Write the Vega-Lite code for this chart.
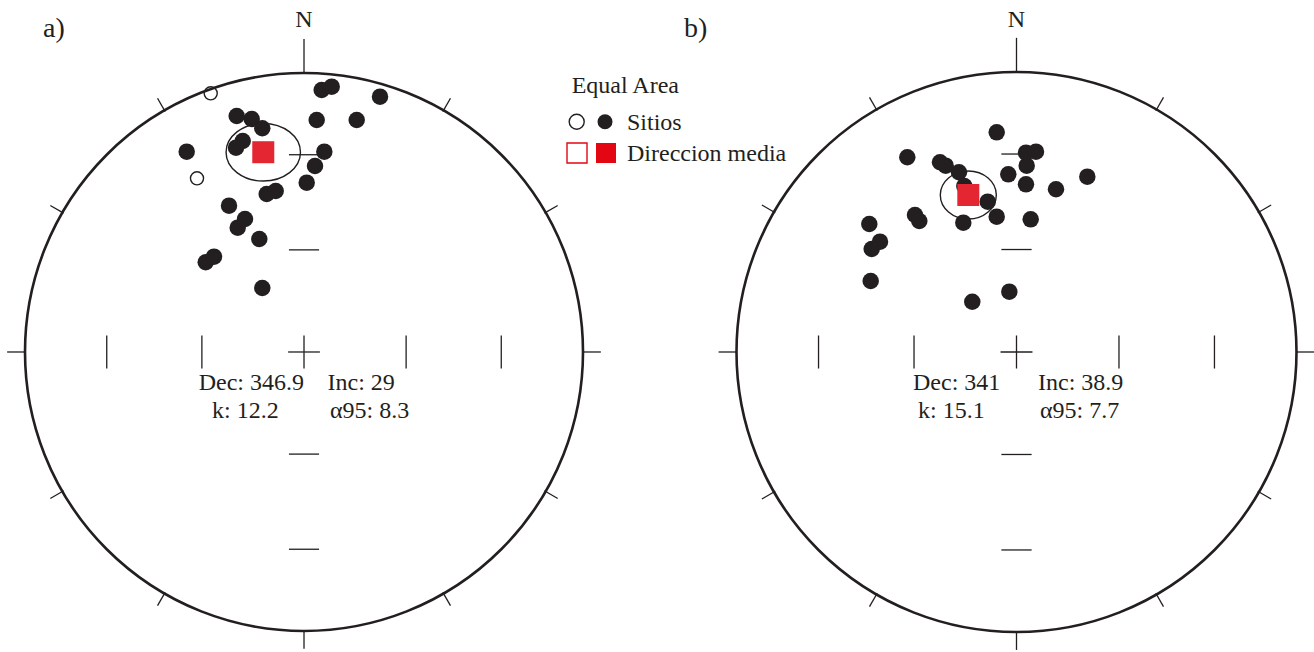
{
  "$schema": "https://vega.github.io/schema/vega-lite/v6.json",
  "padding": 0,
  "spacing": 0,
  "bounds": "flush",
  "background": "white",
  "config": {"view": {"stroke": null}, "text": {"font": "Liberation Serif", "color": "#231f20"}},
  "datasets": {
    "centro": [{"x": 0, "y": 0}],
    "ticks": [
      {"x": -0.057, "y": 0, "x2": 0.057, "y2": 0},
      {"x": 0, "y": -0.059, "x2": 0, "y2": 0.059},
      {"x": -0.707, "y": -0.059, "x2": -0.707, "y2": 0.059},
      {"x": -0.366, "y": -0.059, "x2": -0.366, "y2": 0.059},
      {"x": 0.366, "y": -0.059, "x2": 0.366, "y2": 0.059},
      {"x": 0.707, "y": -0.059, "x2": 0.707, "y2": 0.059},
      {"x": -0.054, "y": 0.707, "x2": 0.054, "y2": 0.707},
      {"x": -0.054, "y": 0.366, "x2": 0.054, "y2": 0.366},
      {"x": -0.054, "y": -0.366, "x2": 0.054, "y2": -0.366},
      {"x": -0.054, "y": -0.707, "x2": 0.054, "y2": -0.707},
      {"x": 0, "y": 1, "x2": 0, "y2": 1.122},
      {"x": 0.4975, "y": 0.8617, "x2": 0.525, "y2": 0.9093},
      {"x": 0.8617, "y": 0.4975, "x2": 0.9093, "y2": 0.525},
      {"x": 1, "y": 0, "x2": 1.064, "y2": 0},
      {"x": 0.8617, "y": -0.4975, "x2": 0.9093, "y2": -0.525},
      {"x": 0.4975, "y": -0.8617, "x2": 0.525, "y2": -0.9093},
      {"x": 0, "y": -1, "x2": 0, "y2": -1.064},
      {"x": -0.4975, "y": -0.8617, "x2": -0.525, "y2": -0.9093},
      {"x": -0.8617, "y": -0.4975, "x2": -0.9093, "y2": -0.525},
      {"x": -1, "y": 0, "x2": -1.064, "y2": 0},
      {"x": -0.8617, "y": 0.4975, "x2": -0.9093, "y2": 0.525},
      {"x": -0.4975, "y": 0.8617, "x2": -0.525, "y2": 0.9093}
    ],
    "sitiosA": [
      {"x": -0.3344, "y": 0.9272, "hem": "sup"},
      {"x": -0.3835, "y": 0.6226, "hem": "sup"},
      {"x": -0.4204, "y": 0.7179, "hem": "inf"},
      {"x": -0.2412, "y": 0.8459, "hem": "inf"},
      {"x": -0.1875, "y": 0.8351, "hem": "inf"},
      {"x": -0.1495, "y": 0.8018, "hem": "inf"},
      {"x": -0.2197, "y": 0.7563, "hem": "inf"},
      {"x": -0.2437, "y": 0.7323, "hem": "inf"},
      {"x": 0.0634, "y": 0.9391, "hem": "inf"},
      {"x": 0.0993, "y": 0.9509, "hem": "inf"},
      {"x": 0.2724, "y": 0.9151, "hem": "inf"},
      {"x": 0.0455, "y": 0.8315, "hem": "inf"},
      {"x": 0.1889, "y": 0.8315, "hem": "inf"},
      {"x": 0.0728, "y": 0.7179, "hem": "inf"},
      {"x": 0.0394, "y": 0.6667, "hem": "inf"},
      {"x": 0.0097, "y": 0.6068, "hem": "inf"},
      {"x": -0.1337, "y": 0.5663, "hem": "inf"},
      {"x": -0.1014, "y": 0.5771, "hem": "inf"},
      {"x": -0.2688, "y": 0.5244, "hem": "inf"},
      {"x": -0.2115, "y": 0.4767, "hem": "inf"},
      {"x": -0.2376, "y": 0.4455, "hem": "inf"},
      {"x": -0.1602, "y": 0.405, "hem": "inf"},
      {"x": -0.3226, "y": 0.3416, "hem": "inf"},
      {"x": -0.3523, "y": 0.3215, "hem": "inf"},
      {"x": -0.1495, "y": 0.2294, "hem": "inf"}
    ],
    "mediaA": [{"x": -0.146, "y": 0.716}],
    "sitiosB": [
      {"x": -0.0707, "y": 0.7846, "hem": "inf"},
      {"x": -0.39, "y": 0.6954, "hem": "inf"},
      {"x": -0.2732, "y": 0.6775, "hem": "inf"},
      {"x": -0.2529, "y": 0.6654, "hem": "inf"},
      {"x": -0.2054, "y": 0.6418, "hem": "inf"},
      {"x": -0.1864, "y": 0.5929, "hem": "inf"},
      {"x": -0.1029, "y": 0.5368, "hem": "inf"},
      {"x": -0.19, "y": 0.4618, "hem": "inf"},
      {"x": -0.0707, "y": 0.4832, "hem": "inf"},
      {"x": -0.0293, "y": 0.6346, "hem": "inf"},
      {"x": 0.0339, "y": 0.7118, "hem": "inf"},
      {"x": 0.0696, "y": 0.7154, "hem": "inf"},
      {"x": 0.0364, "y": 0.6654, "hem": "inf"},
      {"x": 0.0339, "y": 0.5989, "hem": "inf"},
      {"x": 0.1411, "y": 0.5811, "hem": "inf"},
      {"x": 0.2529, "y": 0.6261, "hem": "inf"},
      {"x": 0.0507, "y": 0.4739, "hem": "inf"},
      {"x": -0.3625, "y": 0.4893, "hem": "inf"},
      {"x": -0.3471, "y": 0.4679, "hem": "inf"},
      {"x": -0.5257, "y": 0.4571, "hem": "inf"},
      {"x": -0.4875, "y": 0.3939, "hem": "inf"},
      {"x": -0.5171, "y": 0.3679, "hem": "inf"},
      {"x": -0.5207, "y": 0.2536, "hem": "inf"},
      {"x": -0.1579, "y": 0.1796, "hem": "inf"},
      {"x": -0.0257, "y": 0.2154, "hem": "inf"}
    ],
    "mediaB": [{"x": -0.1721, "y": 0.5607}],
    "textosA": [
      {"x": 0, "y": 1.1638, "texto": "N", "grupo": "norte"},
      {"x": -0.9355, "y": 1.129, "texto": "a)", "grupo": "panel"},
      {"x": -0.3775, "y": -0.1362, "texto": "Dec: 346.9", "grupo": "stats"},
      {"x": 0.0842, "y": -0.1362, "texto": "Inc: 29", "grupo": "stats"},
      {"x": -0.3297, "y": -0.2366, "texto": "k: 12.2", "grupo": "stats"},
      {"x": 0.0932, "y": -0.2366, "texto": "α95: 8.3", "grupo": "stats"},
      {"x": 0.9595, "y": 0.9283, "texto": "Equal Area", "grupo": "leyenda"},
      {"x": 1.1577, "y": 0.7957, "texto": "Sitios", "grupo": "leyenda"},
      {"x": 1.1577, "y": 0.6857, "texto": "Direccion media", "grupo": "leyenda"}
    ],
    "textosB": [
      {"x": 0, "y": 1.1596, "texto": "N", "grupo": "norte"},
      {"x": -1.1875, "y": 1.125, "texto": "b)", "grupo": "panel"},
      {"x": -0.3696, "y": -0.1357, "texto": "Dec: 341", "grupo": "stats"},
      {"x": 0.0768, "y": -0.1357, "texto": "Inc: 38.9", "grupo": "stats"},
      {"x": -0.3518, "y": -0.2357, "texto": "k: 15.1", "grupo": "stats"},
      {"x": 0.0839, "y": -0.2357, "texto": "α95: 7.7", "grupo": "stats"}
    ],
    "leyendaSimbolos": [
      {"x": 0.9774, "y": 0.8254, "serie": "Sitios", "hem": "sup"},
      {"x": 1.0789, "y": 0.8254, "serie": "Sitios", "hem": "inf"},
      {"x": 0.9785, "y": 0.7133, "serie": "Direccion media", "hem": "sup"},
      {"x": 1.0824, "y": 0.7133, "serie": "Direccion media", "hem": "inf"}
    ]
  },
  "hconcat": [
    {
      "width": 657,
      "height": 652,
      "encoding": {
        "x": {"field": "x", "type": "quantitative", "scale": {"domain": [-1.0896, 1.2652], "nice": false, "zero": false}, "axis": null},
        "y": {"field": "y", "type": "quantitative", "scale": {"domain": [-1.0753, 1.2616], "nice": false, "zero": false}, "axis": null}
      },
      "layer": [
        {"data": {"name": "centro"}, "mark": {"type": "point", "shape": "circle", "size": 311364, "filled": false, "stroke": "#231f20", "strokeWidth": 2.6, "opacity": 1}},
        {"data": {"name": "ticks"}, "mark": {"type": "rule", "stroke": "#231f20", "strokeWidth": 1.3}, "encoding": {"x2": {"field": "x2"}, "y2": {"field": "y2"}}},
        {"data": {"name": "mediaA"}, "mark": {"type": "point", "shape": "M-1,0A1,0.774,0,1,1,1,0A1,0.774,0,1,1,-1,0Z", "size": 5535, "filled": false, "stroke": "#231f20", "strokeWidth": 1.4, "opacity": 1}},
        {"data": {"name": "sitiosA"}, "transform": [{"filter": "datum.hem === 'inf'"}], "mark": {"type": "point", "shape": "circle", "size": 272, "filled": true, "fill": "#231f20", "stroke": null, "opacity": 1}},
        {"data": {"name": "sitiosA"}, "transform": [{"filter": "datum.hem === 'sup'"}], "mark": {"type": "point", "shape": "circle", "size": 172, "filled": false, "stroke": "#231f20", "strokeWidth": 1.4, "opacity": 1}},
        {"data": {"name": "mediaA"}, "mark": {"type": "point", "shape": "square", "size": 484, "filled": true, "fill": "#e42532", "stroke": null, "opacity": 1}},
        {"data": {"name": "leyendaSimbolos"}, "transform": [{"filter": "datum.hem === 'inf'"}], "mark": {"type": "point", "filled": true, "opacity": 1, "stroke": null},
          "encoding": {
            "shape": {"field": "serie", "type": "nominal", "scale": {"domain": ["Sitios", "Direccion media"], "range": ["circle", "square"]}, "legend": null},
            "fill": {"field": "serie", "type": "nominal", "scale": {"domain": ["Sitios", "Direccion media"], "range": ["#231f20", "#e30613"]}, "legend": null},
            "size": {"field": "serie", "type": "nominal", "scale": {"domain": ["Sitios", "Direccion media"], "range": [225, 400]}, "legend": null}
          }},
        {"data": {"name": "leyendaSimbolos"}, "transform": [{"filter": "datum.hem === 'sup'"}], "mark": {"type": "point", "filled": false, "opacity": 1, "strokeWidth": 1.4},
          "encoding": {
            "shape": {"field": "serie", "type": "nominal", "scale": {"domain": ["Sitios", "Direccion media"], "range": ["circle", "square"]}, "legend": null},
            "stroke": {"field": "serie", "type": "nominal", "scale": {"domain": ["Sitios", "Direccion media"], "range": ["#231f20", "#e30613"]}, "legend": null},
            "size": {"field": "serie", "type": "nominal", "scale": {"domain": ["Sitios", "Direccion media"], "range": [150, 324]}, "legend": null}
          }},
        {"data": {"name": "textosA"}, "transform": [{"filter": "datum.grupo === 'norte'"}], "mark": {"type": "text", "align": "center", "baseline": "alphabetic", "fontSize": 24}, "encoding": {"text": {"field": "texto"}}},
        {"data": {"name": "textosA"}, "transform": [{"filter": "datum.grupo === 'panel'"}], "mark": {"type": "text", "align": "left", "baseline": "alphabetic", "fontSize": 28}, "encoding": {"text": {"field": "texto"}}},
        {"data": {"name": "textosA"}, "transform": [{"filter": "datum.grupo === 'stats' || datum.grupo === 'leyenda'"}], "mark": {"type": "text", "align": "left", "baseline": "alphabetic", "fontSize": 24}, "encoding": {"text": {"field": "texto"}}}
      ]
    },
    {
      "width": 657,
      "height": 652,
      "encoding": {
        "x": {"field": "x", "type": "quantitative", "scale": {"domain": [-1.2839, 1.0625], "nice": false, "zero": false}, "axis": null},
        "y": {"field": "y", "type": "quantitative", "scale": {"domain": [-1.0714, 1.2571], "nice": false, "zero": false}, "axis": null}
      },
      "layer": [
        {"data": {"name": "centro"}, "mark": {"type": "point", "shape": "circle", "size": 313600, "filled": false, "stroke": "#231f20", "strokeWidth": 2.6, "opacity": 1}},
        {"data": {"name": "ticks"}, "mark": {"type": "rule", "stroke": "#231f20", "strokeWidth": 1.3}, "encoding": {"x2": {"field": "x2"}, "y2": {"field": "y2"}}},
        {"data": {"name": "mediaB"}, "mark": {"type": "point", "shape": "M-1,0A1,0.857,0,1,1,1,0A1,0.857,0,1,1,-1,0Z", "size": 3136, "filled": false, "stroke": "#231f20", "strokeWidth": 1.4, "opacity": 1}},
        {"data": {"name": "sitiosB"}, "mark": {"type": "point", "shape": "circle", "size": 272, "filled": true, "fill": "#231f20", "stroke": null, "opacity": 1}},
        {"data": {"name": "mediaB"}, "mark": {"type": "point", "shape": "square", "size": 484, "filled": true, "fill": "#e42532", "stroke": null, "opacity": 1}},
        {"data": {"name": "textosB"}, "transform": [{"filter": "datum.grupo === 'norte'"}], "mark": {"type": "text", "align": "center", "baseline": "alphabetic", "fontSize": 24}, "encoding": {"text": {"field": "texto"}}},
        {"data": {"name": "textosB"}, "transform": [{"filter": "datum.grupo === 'panel'"}], "mark": {"type": "text", "align": "left", "baseline": "alphabetic", "fontSize": 28}, "encoding": {"text": {"field": "texto"}}},
        {"data": {"name": "textosB"}, "transform": [{"filter": "datum.grupo === 'stats'"}], "mark": {"type": "text", "align": "left", "baseline": "alphabetic", "fontSize": 24}, "encoding": {"text": {"field": "texto"}}}
      ]
    }
  ]
}
